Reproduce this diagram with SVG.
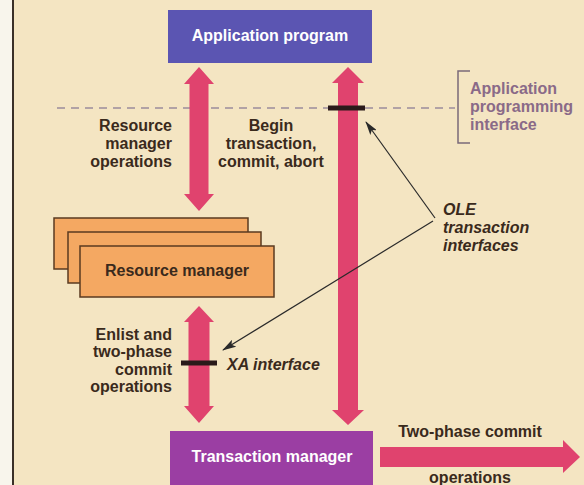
<svg xmlns="http://www.w3.org/2000/svg" width="584" height="485" viewBox="0 0 584 485">
<style>
text{font-family:"Liberation Sans",Arial,sans-serif;font-weight:bold;font-size:16px}
.lbl{fill:#3a2a1c}
.wt{fill:#ffffff}
.it{font-style:italic}
.api{fill:#8a6a88}
.pink{fill:#e0436e}
.rm{fill:#f4a862;stroke:#5a3a20;stroke-width:1.5}
.ole{stroke:#2a2a2a;stroke-width:1.2;fill:none}
.bar{stroke:#2a1a1a;stroke-width:5}
</style>
<defs>
<marker id="ah" viewBox="0 0 14 8" refX="13" refY="4" markerWidth="14" markerHeight="8" markerUnits="userSpaceOnUse" orient="auto">
<path d="M0,0 L14,4 L0,8 L3,4 Z" fill="#2a2a2a"/>
</marker>
</defs>
<rect x="0" y="0" width="584" height="485" fill="#f4e5c2"/>
<rect x="0" y="0" width="12" height="485" fill="#f8f5ec"/>
<line x1="13" y1="0" x2="13" y2="485" stroke="#3a3028" stroke-width="2"/>

<g id="api-boundary">
<line x1="57" y1="108" x2="455" y2="108" stroke="#9a8c9c" stroke-width="1.5" stroke-dasharray="8,6"/>
<path d="M470,71 L458,71 L458,143 L470,143" fill="none" stroke="#7a6a7a" stroke-width="1.5"/>
<text class="api" x="470" y="94">Application</text>
<text class="api" x="470" y="112">programming</text>
<text class="api" x="470" y="130">interface</text>
</g>

<g id="application-program">
<rect x="168" y="10" width="204" height="53" fill="#5b55b2"/>
<text class="wt" x="270" y="41" text-anchor="middle">Application program</text>
</g>

<g id="resource-manager">
<rect class="rm" x="54" y="218" width="194" height="51"/>
<rect class="rm" x="68" y="232" width="193" height="51"/>
<rect class="rm" x="80" y="246" width="194" height="51"/>
<text class="lbl" x="177" y="276" text-anchor="middle">Resource manager</text>
</g>

<g id="transaction-manager">
<rect x="170" y="431" width="203" height="56" fill="#9b3ea3"/>
<text class="wt" x="272" y="462" text-anchor="middle">Transaction manager</text>
</g>

<g id="connectors">
<polygon class="pink" points="199,67 214,84 208.5,84 208.5,194 214,194 199,211 184,194 189.5,194 189.5,84 184,84"/>
<polygon class="pink" points="348,67 364,83 358,83 358,410 364,410 348,425 332,410 338,410 338,83 332,83"/>
<polygon class="pink" points="199,306 214,322 209.5,322 209.5,406 214,406 199,423 184,406 188.5,406 188.5,322 184,322"/>
<polygon class="pink" points="380,447 563,447 563,440 580,457 563,473 563,467 380,467"/>
<line class="bar" x1="328" y1="108" x2="365" y2="108"/>
<line class="bar" x1="181" y1="363" x2="217" y2="363"/>
<line class="ole" x1="435" y1="218" x2="366" y2="122" marker-end="url(#ah)"/>
<line class="ole" x1="433" y1="221" x2="223" y2="350" marker-end="url(#ah)"/>
</g>

<g id="labels">
<text class="lbl" text-anchor="end" x="172" y="131">Resource</text>
<text class="lbl" text-anchor="end" x="172" y="149">manager</text>
<text class="lbl" text-anchor="end" x="172" y="167">operations</text>
<text class="lbl" text-anchor="middle" x="271" y="131">Begin</text>
<text class="lbl" text-anchor="middle" x="271" y="149">transaction,</text>
<text class="lbl" text-anchor="middle" x="271" y="167">commit, abort</text>
<text class="lbl" text-anchor="end" x="172" y="340">Enlist and</text>
<text class="lbl" text-anchor="end" x="172" y="357">two-phase</text>
<text class="lbl" text-anchor="end" x="172" y="375">commit</text>
<text class="lbl" text-anchor="end" x="172" y="392">operations</text>
<text class="lbl it" x="227" y="370">XA interface</text>
<text class="lbl it" x="443" y="215">OLE</text>
<text class="lbl it" x="443" y="233">transaction</text>
<text class="lbl it" x="443" y="251">interfaces</text>
<text class="lbl" text-anchor="middle" x="470" y="437">Two-phase commit</text>
<text class="lbl" text-anchor="middle" x="470" y="483">operations</text>
</g>
</svg>
